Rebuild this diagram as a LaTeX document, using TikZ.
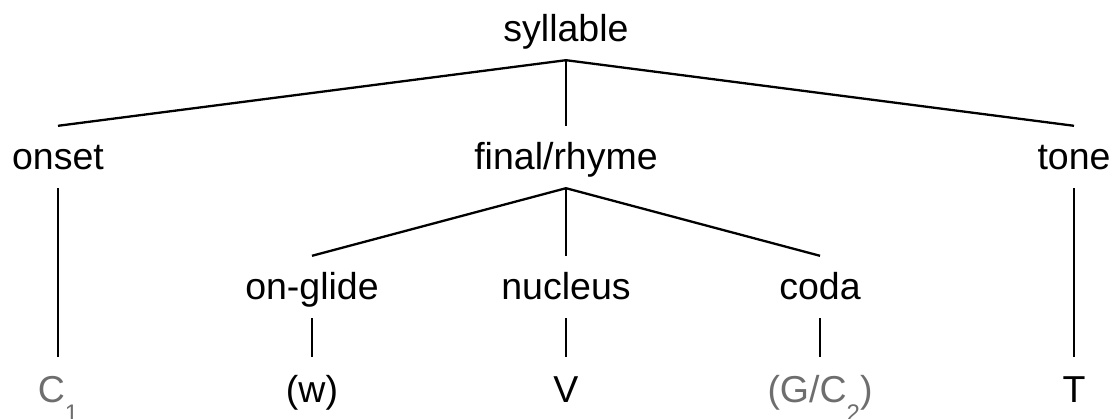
\documentclass[tikz,border=0pt]{standalone}
\usepackage{fontspec}
\setmainfont{Liberation Sans}
\definecolor{leafgray}{RGB}{110,110,110}
% lowered, smaller subscript digit
\newcommand\lowsub[1]{\raisebox{-19pt}{\fontsize{24}{24}\selectfont #1}}
\begin{document}
\begin{tikzpicture}[x=1pt,y=-1pt,
  lbl/.style={anchor=base, font=\fontsize{37.5}{45}\selectfont,
    text height=34pt, text depth=8pt, inner xsep=0pt, inner ysep=10pt},
  bottom/.style={lbl, text height=36pt},
  greyleaf/.style={bottom, text=leafgray},
  branch/.style={line width=2.3pt}]
\useasboundingbox (0,0) rectangle (1114,419);

% tiers of the syllable tree
\node[lbl] (syl)   at (566,42)  {syllable};
\node[lbl] (onset) at (58,170)  {onset};
\node[lbl] (final) at (566,170) {final/rhyme};
\node[lbl] (tone)  at (1074,170) {tone};
\node[lbl] (glide) at (312,300) {on-glide};
\node[lbl] (nuc)   at (566,300) {nucleus};
\node[lbl] (coda)  at (820,300) {coda};
\node[greyleaf] (c1) at (58,403)  {C\lowsub{1}};
\node[bottom]   (w)  at (312,403) {(w)};
\node[bottom]   (v)  at (566,403) {V};
\node[greyleaf] (gc) at (820,403) {(G/C\lowsub{2})};
\node[bottom]   (t)  at (1074,403) {T};

% branches
\draw[branch] (syl.south) -- (onset.north);
\draw[branch] (syl.south) -- (final.north);
\draw[branch] (syl.south) -- (tone.north);
\draw[branch] (final.south) -- (glide.north);
\draw[branch] (final.south) -- (nuc.north);
\draw[branch] (final.south) -- (coda.north);
\draw[branch] (onset.south) -- (c1.north);
\draw[branch] (tone.south) -- (t.north);
\draw[branch] (glide.south) -- (w.north);
\draw[branch] (nuc.south) -- (v.north);
\draw[branch] (coda.south) -- (gc.north);
\end{tikzpicture}
\end{document}
